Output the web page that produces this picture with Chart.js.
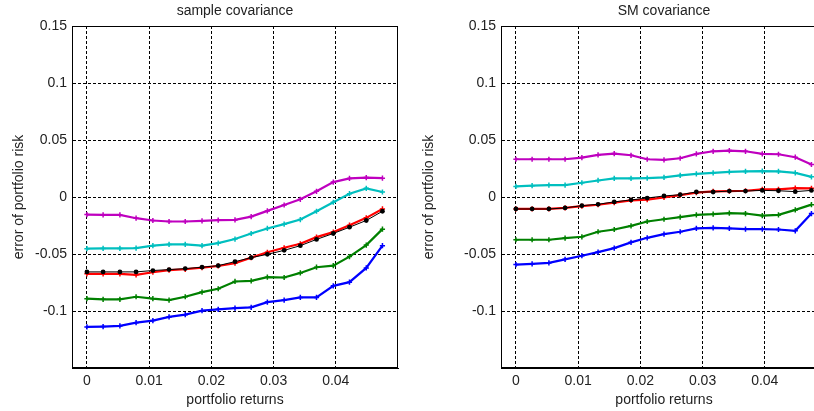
<!DOCTYPE html>
<html>
<head>
<meta charset="utf-8">
<script src="https://cdn.jsdelivr.net/npm/chart.js@4"></script>
<style>
  html, body { margin: 0; padding: 0; background: #fff; overflow: hidden; }
  body { width: 814px; height: 411px; position: relative; }
  canvas { position: absolute; top: 0; }
  #sampleChart { left: 0; }
  #smChart { left: 410px; }
</style>
</head>
<body>
<canvas id="sampleChart" width="410" height="411"></canvas>
<canvas id="smChart" width="430" height="411"></canvas>
<script>
// portfolio returns (x) shared by every curve
const returns = [0, 0.0026, 0.0053, 0.0079, 0.0106, 0.0132, 0.0158, 0.0185, 0.0211, 0.0238,
  0.0264, 0.0290, 0.0317, 0.0343, 0.0369, 0.0396, 0.0422, 0.0449, 0.0475];
const xTicks = [0, 0.01, 0.02, 0.03, 0.04];

// sample covariance
const sampleMagenta = [-0.0154, -0.0157, -0.0157, -0.0186, -0.0206, -0.0215, -0.0215, -0.0209, -0.0203, -0.0201,
  -0.0172, -0.0122, -0.0070, -0.0020, 0.0050, 0.0131, 0.0163, 0.0170, 0.0165];
const sampleCyan = [-0.0453, -0.0451, -0.0451, -0.0448, -0.0427, -0.0416, -0.0416, -0.0427, -0.0404, -0.0369,
  -0.0320, -0.0276, -0.0238, -0.0198, -0.0125, -0.0046, 0.0029, 0.0076, 0.0044];
const sampleRed = [-0.0674, -0.0674, -0.0674, -0.0683, -0.0660, -0.0642, -0.0634, -0.0619, -0.0605, -0.0581,
  -0.0532, -0.0485, -0.0445, -0.0410, -0.0352, -0.0308, -0.0247, -0.0183, -0.0105];
const sampleBlack = [-0.0657, -0.0657, -0.0657, -0.0657, -0.0645, -0.0637, -0.0628, -0.0616, -0.0602, -0.0567,
  -0.0532, -0.0503, -0.0468, -0.0427, -0.0372, -0.0320, -0.0265, -0.0206, -0.0125];
const sampleGreen = [-0.0892, -0.0898, -0.0898, -0.0875, -0.0892, -0.0904, -0.0875, -0.0834, -0.0805, -0.0741,
  -0.0735, -0.0703, -0.0706, -0.0666, -0.0616, -0.0602, -0.0523, -0.0422, -0.0282];
const sampleBlue = [-0.1140, -0.1137, -0.1131, -0.1102, -0.1084, -0.1052, -0.1032, -0.0997, -0.0985, -0.0974,
  -0.0968, -0.0922, -0.0904, -0.0881, -0.0881, -0.0779, -0.0747, -0.0622, -0.0427];

// SM covariance
const smMagenta = [0.0331, 0.0331, 0.0331, 0.0331, 0.0346, 0.0369, 0.0381, 0.0366, 0.0331, 0.0326,
  0.0340, 0.0378, 0.0401, 0.0407, 0.0401, 0.0378, 0.0375, 0.0349, 0.0285];
const smCyan = [0.0093, 0.0099, 0.0105, 0.0105, 0.0125, 0.0145, 0.0163, 0.0163, 0.0166, 0.0172,
  0.0189, 0.0203, 0.0212, 0.0221, 0.0224, 0.0227, 0.0224, 0.0212, 0.0177];
const smRed = [-0.0105, -0.0105, -0.0105, -0.0096, -0.0080, -0.0068, -0.0050, -0.0029, -0.0023, -0.0003,
  0.0017, 0.0038, 0.0049, 0.0052, 0.0055, 0.0067, 0.0067, 0.0078, 0.0076];
const smBlack = [-0.0105, -0.0105, -0.0105, -0.0096, -0.0076, -0.0064, -0.0043, -0.0026, -0.0009, 0.0009,
  0.0020, 0.0044, 0.0044, 0.0052, 0.0052, 0.0058, 0.0055, 0.0047, 0.0058];
const smGreen = [-0.0375, -0.0375, -0.0375, -0.0360, -0.0349, -0.0305, -0.0285, -0.0253, -0.0215, -0.0195,
  -0.0177, -0.0157, -0.0151, -0.0142, -0.0145, -0.0163, -0.0157, -0.0113, -0.0067];
const smBlue = [-0.0593, -0.0587, -0.0578, -0.0547, -0.0515, -0.0483, -0.0448, -0.0398, -0.0358, -0.0326,
  -0.0305, -0.0276, -0.0270, -0.0276, -0.0282, -0.0282, -0.0285, -0.0297, -0.0145];

const FONT = { family: '"Liberation Sans", Arial, sans-serif', size: 14 };
const TEXT = '#222';

function points(vals) {
  return returns.map((r, i) => ({ x: r, y: vals[i] }));
}

function curve(vals, color) {
  return {
    data: points(vals),
    borderColor: color,
    backgroundColor: color,
    borderWidth: 2.2,
    pointStyle: 'cross',
    pointRadius: 2.6,
    pointBorderWidth: 1.5,
    order: 1
  };
}

function blackCurve(vals) {
  return {
    data: points(vals),
    borderColor: '#000',
    backgroundColor: '#000',
    borderWidth: 1,
    pointStyle: 'circle',
    pointRadius: 2.4,
    pointBorderWidth: 0,
    order: 0
  };
}

// solid box around the plotting area
const frame = {
  id: 'frame',
  afterDraw(chart) {
    const a = chart.chartArea;
    const ctx = chart.ctx;
    ctx.save();
    ctx.strokeStyle = '#000';
    ctx.lineWidth = 1;
    ctx.setLineDash([]);
    ctx.strokeRect(Math.round(a.left) + 0.5, Math.round(a.top) + 0.5,
      Math.round(a.right - a.left) - 1, Math.round(a.bottom - a.top) - 1);
    ctx.restore();
  }
};

const fmt = v => String(+(+v).toFixed(2));

function makeChart(id, title, sets, yWidth, rightPad) {
  return new Chart(document.getElementById(id), {
    type: 'line',
    data: {
      datasets: [
        curve(sets.blue, '#0000ff'),
        curve(sets.green, '#008000'),
        curve(sets.red, '#ff0000'),
        curve(sets.cyan, '#00bfbf'),
        curve(sets.magenta, '#bf00bf'),
        blackCurve(sets.black)
      ]
    },
    options: {
      responsive: false,
      animation: false,
      layout: { padding: { left: 0, right: rightPad, top: 0, bottom: 0 } },
      plugins: {
        legend: { display: false },
        tooltip: { enabled: false },
        title: {
          display: true,
          text: title,
          fullSize: false,
          color: TEXT,
          font: { ...FONT, weight: 'normal' },
          padding: { top: 3, bottom: 6.2 }
        }
      },
      scales: {
        x: {
          type: 'linear',
          min: -0.0024,
          max: 0.05,
          afterBuildTicks: s => { s.ticks = xTicks.map(v => ({ value: v })); },
          afterFit: s => { s.height = 43; },
          ticks: { color: TEXT, font: FONT, padding: 5, maxRotation: 0, callback: fmt },
          grid: { color: '#000', lineWidth: 1, drawTicks: false },
          border: { display: true, color: '#000', dash: [3, 2] },
          title: { display: true, text: 'portfolio returns', color: TEXT, font: FONT, padding: { top: 4, bottom: 2.6 } }
        },
        y: {
          min: -0.15,
          max: 0.15,
          afterFit: s => { s.width = yWidth; },
          ticks: {
            stepSize: 0.05,
            color: TEXT,
            font: FONT,
            padding: 5,
            callback: v => (Math.abs(v + 0.15) < 1e-9 ? '' : fmt(v))
          },
          grid: { color: '#000', lineWidth: 1, drawTicks: false },
          border: { display: true, color: '#000', dash: [3, 2] },
          title: { display: true, text: 'error of portfolio risk', color: TEXT, font: FONT, padding: { top: 10.6, bottom: 4 } }
        }
      }
    },
    plugins: [frame]
  });
}

makeChart('sampleChart', 'sample covariance', {
  magenta: sampleMagenta, cyan: sampleCyan, red: sampleRed,
  black: sampleBlack, green: sampleGreen, blue: sampleBlue
}, 72, 12);

makeChart('smChart', 'SM covariance', {
  magenta: smMagenta, cyan: smCyan, red: smRed,
  black: smBlack, green: smGreen, blue: smBlue
}, 91, 13);
</script>
</body>
</html>
